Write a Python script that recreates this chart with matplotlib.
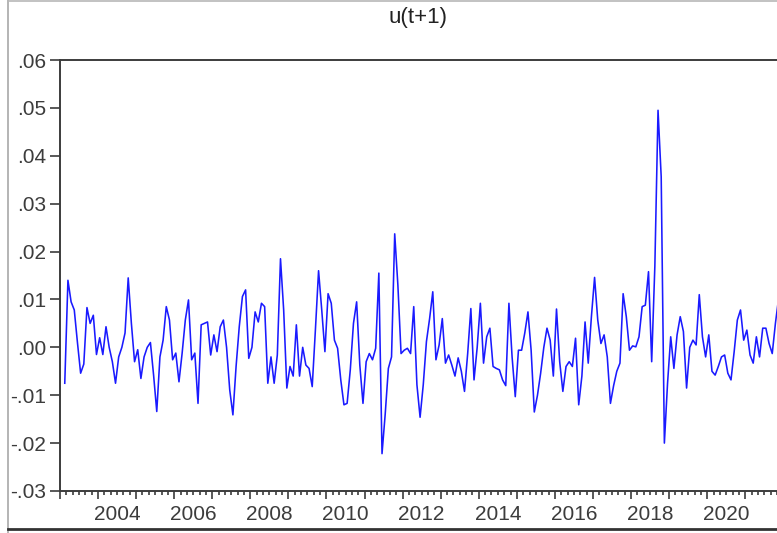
import numpy as np
import pandas as pd
import matplotlib
matplotlib.use("Agg")
import matplotlib.pyplot as plt
from matplotlib.lines import Line2D

plt.rcParams["font.family"] = ["Liberation Sans", "DejaVu Sans"]

# monthly values, Feb 2003 onwards
u_2003_2005 = [-0.0075, 0.014, 0.0095, 0.0078, 0.001, -0.0054, -0.0035, 0.0083, 0.005, 0.0067,
               -0.0015, 0.002, -0.0015, 0.0043, 0.0, -0.003, -0.0075, -0.002, 0.0, 0.003,
               0.0145, 0.005, -0.003, -0.0005, -0.0065, -0.002, 0.0, 0.001, -0.0058, -0.0134,
               -0.002, 0.0015, 0.0085, 0.0057, -0.0026]
u_2006_2008 = [-0.0012, -0.0072, -0.0012, 0.0057, 0.0099, -0.0026, -0.0012, -0.0117, 0.0047, 0.005,
               0.0053, -0.0016, 0.0026, -0.0009, 0.0043, 0.0057, 0.0, -0.0089, -0.0141, -0.004,
               0.0043, 0.0106, 0.012, -0.0023, 0.0, 0.0074, 0.0053, 0.0092, 0.0085, -0.0075,
               -0.002, -0.0075, -0.0016, 0.0185, 0.0078, -0.0085, -0.004, -0.006]
u_2009_2011 = [0.0047, -0.006, 0.0, -0.0037, -0.0044, -0.0082, 0.0036, 0.016, 0.0078, -0.0009,
               0.0112, 0.0092, 0.0015, -0.0002, -0.0068, -0.012, -0.0117, -0.0047, 0.005, 0.0095,
               -0.0037, -0.0117, -0.003, -0.0013, -0.0026, -0.0002, 0.0155, -0.0222, -0.014, -0.0044,
               -0.002, 0.0237, 0.013, -0.0013, -0.0006, -0.0002, -0.0013, 0.0085, -0.0078, -0.0146]
u_2012_2014 = [-0.0078, 0.0012, 0.006, 0.0116, -0.0026, 0.0005, 0.006, -0.0033, -0.0016, -0.0037,
               -0.006, -0.0022, -0.005, -0.0092, -0.0013, 0.0081, -0.0068, 0.0, 0.0092, -0.0033,
               0.0022, 0.004, -0.004, -0.0044, -0.0047, -0.0068, -0.008, 0.0092, -0.002, -0.0103,
               -0.0006, -0.0006, 0.003, 0.0074, -0.0006, -0.0135, -0.010]
u_2015_2017 = [-0.0054, 0.0, 0.004, 0.0015, -0.006, 0.008, -0.003, -0.0092, -0.004, -0.003,
               -0.004, 0.0019, -0.012, -0.006, 0.0053, -0.0033, 0.0064, 0.0146, 0.0057, 0.0008,
               0.0026, -0.002, -0.0117, -0.008, -0.005, -0.0033, 0.0112, 0.0064, -0.0006, 0.0003,
               0.0001, 0.0022, 0.0085, 0.0088, 0.0158, -0.003]
u_2018_2021 = [0.017, 0.0495, 0.0356, -0.020, -0.0075, 0.0022, -0.0044, 0.0026, 0.0064, 0.0033,
               -0.0085, 0.0, 0.0015, 0.0005, 0.011, 0.0022, -0.002, 0.0026, -0.005, -0.0058,
               -0.004, -0.002, -0.0016, -0.0054, -0.0068, -0.0009, 0.0057, 0.0078, 0.0015, 0.0036,
               -0.0016, -0.0033, 0.0022, -0.002, 0.004, 0.004, 0.0008, -0.0013, 0.005, 0.0102]

u = u_2003_2005 + u_2006_2008 + u_2009_2011 + u_2012_2014 + u_2015_2017 + u_2018_2021
dates = pd.date_range("2003-02-01", periods=len(u), freq="MS")
t = dates.year + (dates.month - 0.5) / 12

y_ticks = [-0.03, -0.02, -0.01, 0.00, 0.01, 0.02, 0.03, 0.04, 0.05, 0.06]
y_labels = ["-.03", "-.02", "-.01", ".00", ".01", ".02", ".03", ".04", ".05", ".06"]
year_labels = list(range(2004, 2021, 2))

W, H = 777, 533
fig = plt.figure(figsize=(W / 100, H / 100), dpi=100)
ax = fig.add_axes([60 / W, 1 - 491 / H, 1 - 60 / W, 431 / H])

ax.plot(t, u, color="#1a1aff", linewidth=1.15)

x0 = 2003.0
x1 = x0 + (W - 59.6) / 38.125
ax.set_xlim(x0, x1)
ax.set_ylim(-0.03, 0.06)

grey = "#3c3c3c"
ax.set_yticks(y_ticks)
ax.set_yticklabels(y_labels)
ax.set_xticks(np.arange(2003, 2022))
ax.set_xticklabels([])
ax.set_xticks(np.arange(2003, 2022, 1 / 6), minor=True)
ax.tick_params(axis="y", direction="out", length=7, width=1.2, color=grey,
               labelcolor=grey, labelsize=15, pad=3)
ax.tick_params(axis="x", which="major", direction="out", length=5.5, width=1.2, color=grey)
ax.tick_params(axis="x", which="minor", direction="out", length=3, width=1.2, color=grey)

for yr in year_labels:
    ax.text(yr + 0.5, -24 / 431, str(yr), transform=ax.get_xaxis_transform(),
            ha="center", va="center", fontsize=15, color=grey)

for side in ["left", "top", "bottom"]:
    ax.spines[side].set_color(grey)
    ax.spines[side].set_linewidth(1.4)
ax.spines["right"].set_visible(False)

ax.set_title("u(t+1)", fontsize=16, color="#222222", pad=0, y=1 + 42 / 431, va="center")

# outer window frame
fig.add_artist(Line2D([8 / W, 8 / W], [0, 1], transform=fig.transFigure, color="#a8a8a8", lw=1.2))
fig.add_artist(Line2D([8 / W, 1], [1 - 1 / H, 1 - 1 / H], transform=fig.transFigure, color="#b8b8b8", lw=1.2))
fig.add_artist(Line2D([8 / W, 1], [1 - 529 / H, 1 - 529 / H], transform=fig.transFigure, color="#333333", lw=2))

fig.savefig("out.png", dpi=100)
